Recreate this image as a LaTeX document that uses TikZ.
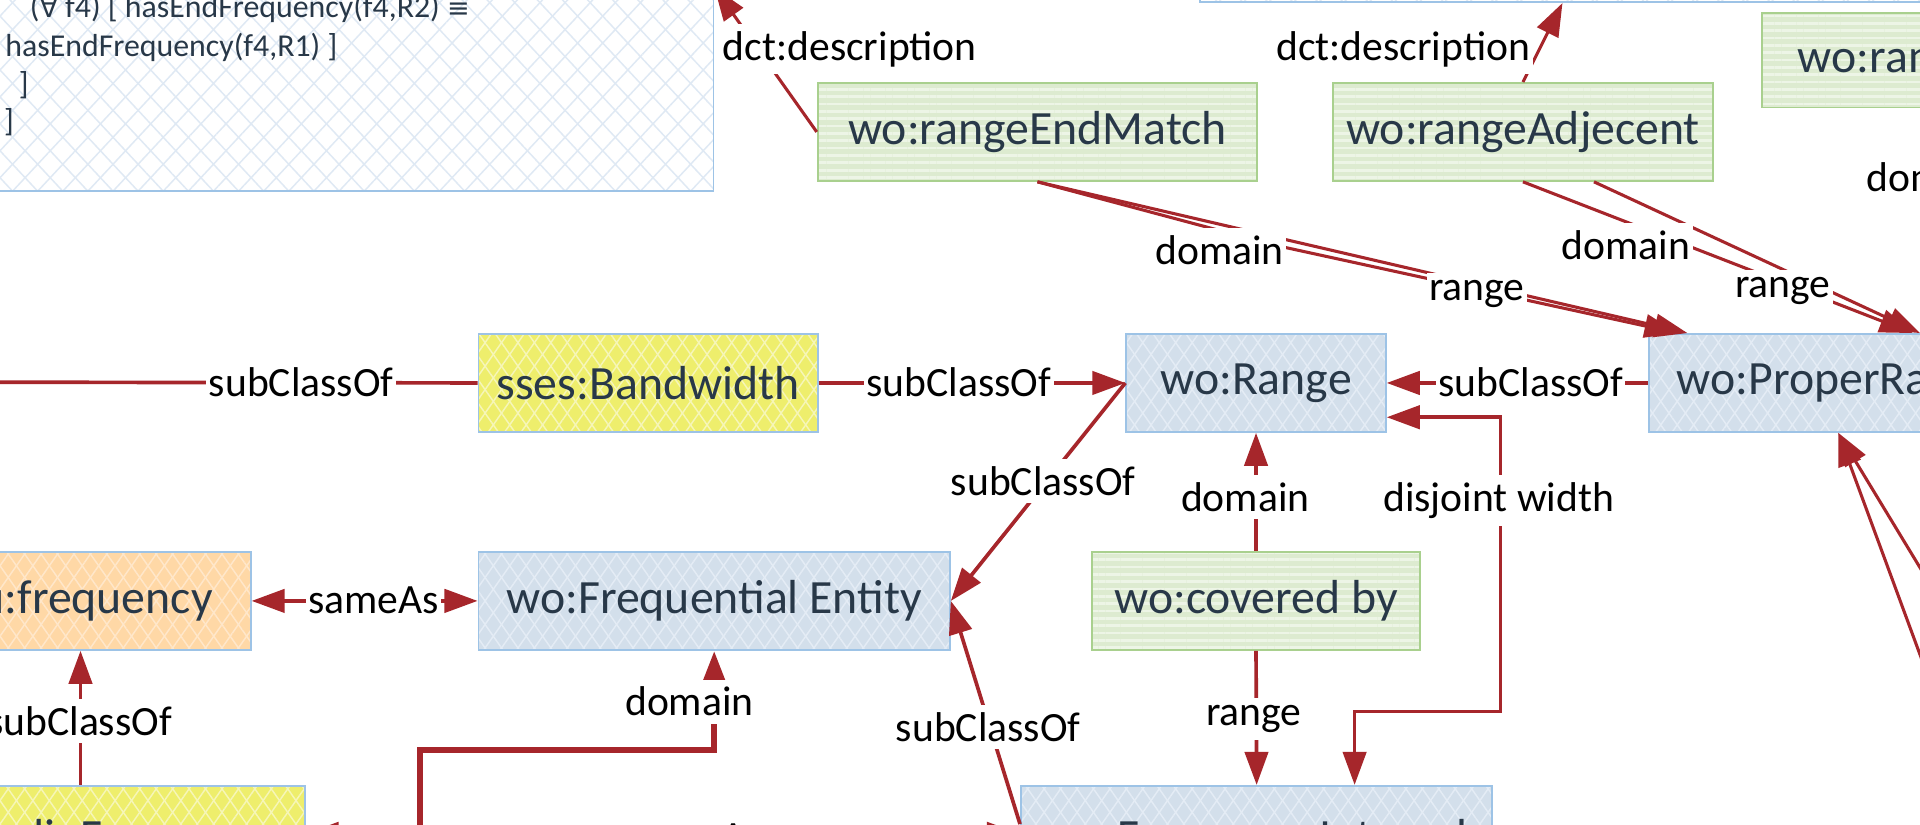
\documentclass[tikz,border=0pt]{standalone}
\usepackage{fontspec}
\setmainfont{Carlito}
\newfontfamily\sym{DejaVu Sans}[Scale=0.85]
\usetikzlibrary{arrows.meta,patterns.meta,calc}

\definecolor{edgered}{HTML}{A6262B}
\definecolor{boxline}{HTML}{9DC3E6}
\definecolor{bluefill}{HTML}{D3DFEB}
\definecolor{bluepat}{HTML}{E4ECF5}
\definecolor{yellowfill}{HTML}{EEEE6C}
\definecolor{yellowpat}{HTML}{F6F6B8}
\definecolor{orangefill}{HTML}{FFD8A6}
\definecolor{orangepat}{HTML}{FFE7CA}
\definecolor{greenfill}{HTML}{DDEBD0}
\definecolor{greenpat}{HTML}{EDF5E6}
\definecolor{greenline}{HTML}{A9D08E}
\definecolor{notepat}{HTML}{DFE9F4}
\definecolor{nodetext}{HTML}{283848}

\begin{document}
\begin{tikzpicture}[x=0.5pt,y=-0.5pt,
  conn/.style={draw=edgered,line width=1.5pt},
  arr/.style={-{Triangle[length=13.5pt,width=9.5pt]}},
  darr/.style={{Triangle[length=13.5pt,width=9.5pt]}-{Triangle[length=13.5pt,width=9.5pt]}},
  lbl/.style={fill=white,inner xsep=1pt,inner ysep=3pt,text=black,font=\fontsize{17}{20}\selectfont},
  cls/.style={rectangle,inner sep=0pt,anchor=north west,minimum height=40pt,
    text=nodetext,font=\fontsize{19.5}{23}\selectfont,line width=0.75pt},
  diamonds/.style n args={3}{
    preaction={fill=#1},
    preaction={pattern={Lines[angle=#3,distance=5.5pt,line width=0.6pt]},pattern color=#2},
    preaction={pattern={Lines[angle=-#3,distance=5.5pt,line width=0.6pt]},pattern color=#2}},
  bluebox/.style={cls,draw=boxline,diamonds={bluefill}{bluepat}{55}},
  yellowbox/.style={cls,draw=boxline,diamonds={yellowfill}{yellowpat}{55}},
  orangebox/.style={cls,draw=boxline,diamonds={orangefill}{orangepat}{55}},
  greenbox/.style={cls,draw=greenline,
    preaction={fill=greenfill},
    preaction={pattern={Lines[angle=0,distance=3pt,line width=1.1pt]},pattern color=greenpat}},
  notebox/.style={rectangle,inner sep=0pt,anchor=north west,draw=boxline,line width=0.75pt,
    preaction={fill=white},
    preaction={pattern={Lines[angle=47,distance=7.5pt,line width=0.6pt]},pattern color=notepat},
    preaction={pattern={Lines[angle=-47,distance=7.5pt,line width=0.6pt]},pattern color=notepat}},
  notetext/.style={anchor=base west,inner sep=0pt,text=nodetext,font=\fontsize{13}{15.5}\selectfont}
]
\useasboundingbox (0,0) rectangle (1568,673);
\clip (0,0) rectangle (1568,673);
\fill[white] (0,0) rectangle (1568,673);

% ---------- boxes ----------
\node[notebox,minimum width=296pt,minimum height=82.5pt] (tl) at (-10,-10) {};
\node[notetext] (t1) at (24,14) {({\sym ∀} f4) [ hasEndFrequency(f4,R2) {\sym ≡}};
\node[notetext] (t2) at (4,46) {hasEndFrequency(f4,R1) ]};
\node[notetext] (t3) at (15,77) {]};
\node[notetext] (t4) at (3,107) {]};
\node[notebox,minimum width=360.5pt,minimum height=60pt] (top2) at (979,-119) {};

\node[greenbox,minimum width=179.5pt] (rem) at (667,67) {wo:rangeEndMatch};
\node[greenbox,minimum width=155pt] (radj) at (1088,67) {wo:rangeAdjecent};
\node[greenbox,minimum width=192pt,minimum height=38.5pt] (rsm) at (1438,10) {wo:rangeStartMatch};

\node[yellowbox,minimum width=138.5pt] (bw) at (390,272) {sses:Bandwidth};
\node[bluebox,minimum width=106pt] (rng) at (919,272) {wo:Range};
\node[bluebox,minimum width=154.5pt] (pr) at (1346,272) {wo:ProperRange};

\node[orangebox,minimum width=136.5pt] (freq) at (-69,450) {qu:frequency};
\node[bluebox,minimum width=192.5pt] (fe) at (390,450) {wo:Frequential Entity};
\node[greenbox,minimum width=134pt] (cov) at (891,450) {wo:covered by};

% the two lower boxes run past the bottom edge
\node[yellowbox,minimum width=183pt,minimum height=44pt] (bl) at (-118,641) {sses:RadioFrequency};
\node[bluebox,minimum width=192.5pt,minimum height=44pt] (br) at (833,641) {wo:FrequencyInterval};

% ---------- free ends ----------
\coordinate (offL) at (-80,312);
\coordinate (offB) at (343,760);
\coordinate (offR1) at (1640,730);
\coordinate (offR2) at (1601,518);
\coordinate (kink) at (1040,200);
\coordinate (tgtD) at ($(top2.south west)+(297,0)$);
\coordinate (blE) at ($(bl.north east)+(0,40)$);
\coordinate (brW) at ($(br.north west)+(0,40)$);
\coordinate (brS) at ($(br.north west)+(0,32)$);

% ---------- connectors ----------
\draw[conn,arr] (bw.west) -- (offL);
\draw[conn,arr] (bw.east) -- (rng.west);
\draw[conn,arr] (pr.west) -- (rng.east);
\draw[conn,arr] (rng.west) -- (fe.east);
\draw[conn,arr] (cov.north) -- (rng.south);
\draw[conn,arr] (cov.south) -- (br.north);
\draw[conn,darr] ($(rng.east)+(0,28)$) -- ++(93,0) |- ($(br.north)+(80,-60)$) -- ($(br.north)+(80,0)$);
\draw[conn,arr] (brS) -- (fe.east);
\draw[conn,arr,line width=2.5pt] (offB) |- ($(fe.south)+(0,81)$) -- (fe.south);
\draw[conn,darr] (freq.east) -- (fe.west);
\draw[conn,arr] (bl.north) -- (bl.north |- freq.south);
\draw[conn,darr] (blE) -- (brW);

\draw[conn,arr,line width=1.25pt] (rem.west) -- (tl.north east);
\draw[conn,arr,line width=1.25pt] (radj.north) -- (tgtD);

\draw[conn,arr,line width=1.25pt] (rem.south) -- ($(pr.north west)+(32,0)$);
\draw[conn,arr,line width=1.25pt] (rem.south) -- (kink) -- ($(pr.north west)+(24,0)$);
\draw[conn,arr,line width=1.25pt] (radj.south) -- ($(pr.north west)+(216,0)$);
\draw[conn,arr,line width=1.25pt] ($(radj.south)+(58,0)$) -- ($(pr.north west)+(222,0)$);
\draw[conn,arr,line width=1.25pt] (rsm.south) -- (pr.north east);
\draw[conn,arr,line width=1.25pt] (offR1) -- (pr.south);
\draw[conn,arr,line width=1.25pt] (offR2) -- (pr.south);

% ---------- connector labels ----------
\node[lbl] (l1) at (246,312) {subClassOf};
\node[lbl] (l2) at (783,312) {subClassOf};
\node[lbl] (l3) at (1250,312) {subClassOf};
\node[lbl] (l4) at (852,393) {subClassOf};
\node[lbl] (l5) at (1017,406) {domain};
\node[lbl] (l6) at (1024,587) {range};
\node[lbl] (l7) at (1224,409) {disjoint width};
\node[lbl] (l8) at (807,594) {subClassOf};
\node[lbl] (l9) at (563,573) {domain};
\node[lbl] (l10) at (305,490) {sameAs};
\node[lbl] (l11) at (65,589) {subClassOf};
\node[lbl] (l12) at (569,684) {sameAs};
\node[lbl] (l13) at (694,40) {dct:description};
\node[lbl] (l14) at (1146,40) {dct:description};
\node[lbl] (l15) at (996,204) {domain};
\node[lbl] (l16) at (1206,240) {range};
\node[lbl] (l17) at (1328,200) {domain};
\node[lbl] (l18) at (1456,238) {range};
\node[lbl] (l19) at (1577,145) {domain};
\end{tikzpicture}
\end{document}
